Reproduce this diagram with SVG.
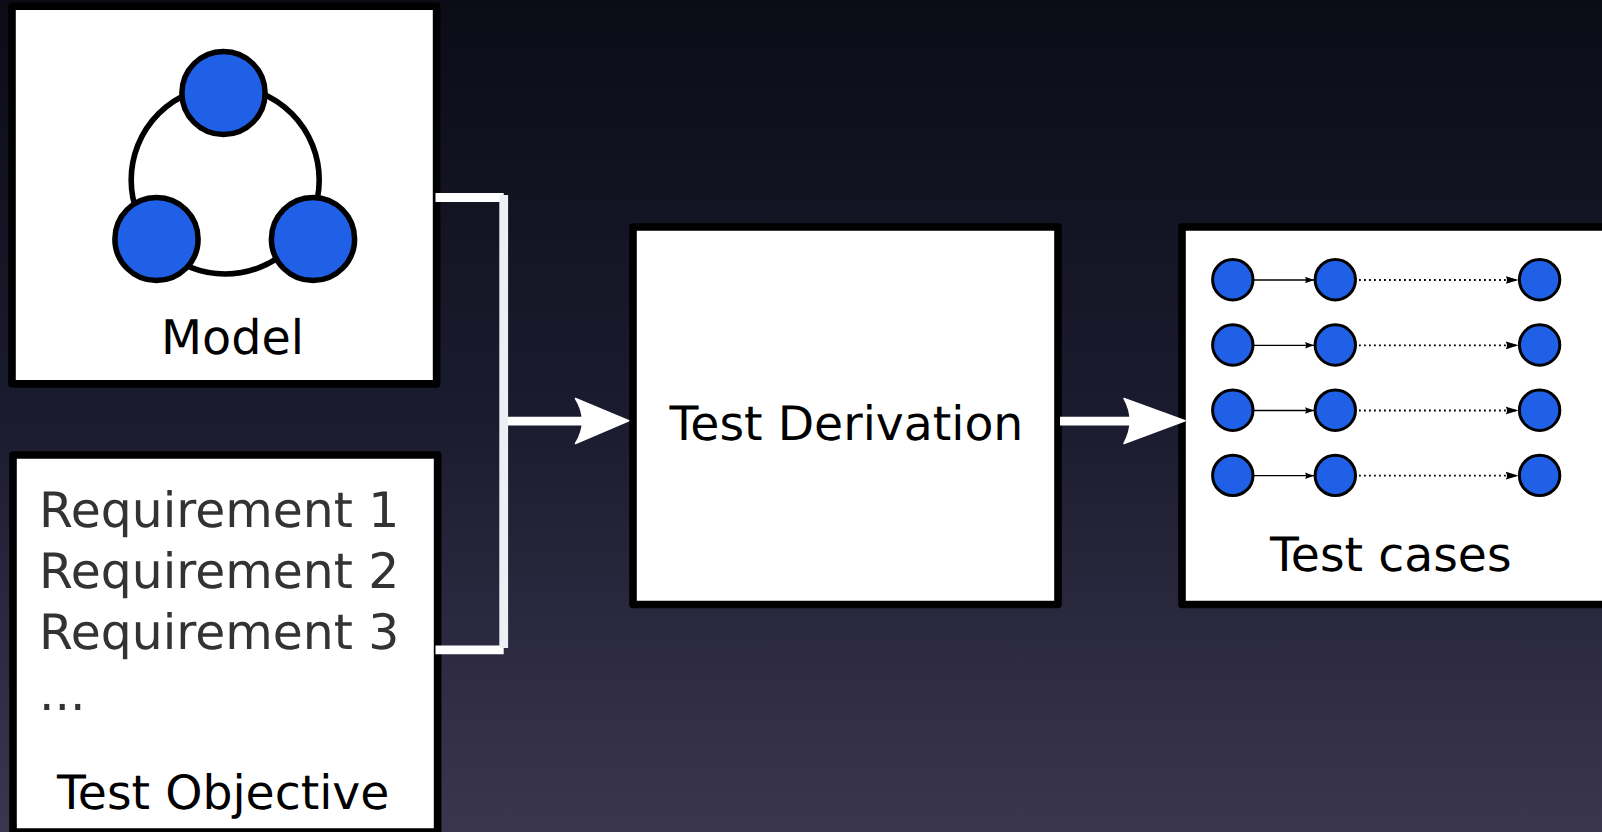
<svg xmlns="http://www.w3.org/2000/svg" width="1602" height="832" viewBox="0 0 1602 832">
<style>
.box{fill:#fff;stroke:#000;stroke-width:7.6;stroke-linejoin:round}
.big{fill:#1f60e6;stroke:#000;stroke-width:5.5}
.small{fill:#1f60e6;stroke:#000;stroke-width:3}
.t{font-family:"DejaVu Sans",sans-serif;font-size:47.3px;fill:#000;text-rendering:geometricPrecision}
.r{font-size:48.8px;fill:#333}
.wire{fill:none;stroke:#fff;stroke-width:8.8}
.fine{fill:none;stroke:#000;stroke-width:1.3;marker-end:url(#mini)}
.dot{stroke-dasharray:1.8 3.2;stroke-width:1.8;marker-end:url(#mini2)}
.head{fill:#fff;stroke:#fff;stroke-width:1.5;stroke-linejoin:round}
</style>
<defs>
<linearGradient id="bg" x1="0" y1="0" x2="0" y2="1"><stop offset="0" stop-color="#0b0c16"/><stop offset=".5" stop-color="#1b1b2f"/><stop offset="1" stop-color="#3a364e"/></linearGradient>
<marker id="mini" markerUnits="userSpaceOnUse" markerWidth="10" markerHeight="8" refX="9" refY="4" orient="auto"><path d="M0 .7L9 4L0 7.300Q2 4 0 .7Z" fill="#000"/></marker>
<marker id="mini2" markerUnits="userSpaceOnUse" markerWidth="14" markerHeight="10" refX="13" refY="5" orient="auto"><path d="M0 1L13 5L0 9Q3 5 0 1Z" fill="#000"/></marker>
</defs>
<rect width="1602" height="832" fill="url(#bg)"/>
<g id="model">
<rect class="box" x="12" y="6.200" width="424.600" height="377.700"/>
<circle cx="225.200" cy="180" r="94" fill="none" stroke="#000" stroke-width="5.600"/>
<circle class="big" cx="223.500" cy="93" r="41.600"/>
<circle class="big" cx="156.500" cy="239" r="41.600"/>
<circle class="big" cx="313" cy="239" r="41.600"/>
<text class="t" x="161" y="354" style="font-size:47.600px">Model</text>
</g>
<g id="test-objective">
<rect class="box" x="13" y="455" width="424.600" height="377"/>
<text class="t r" x="39" y="527">Requirement 1</text>
<text class="t r" x="39" y="588">Requirement 2</text>
<text class="t r" x="39" y="649">Requirement 3</text>
<text class="t r" x="39" y="710">...</text>
<text class="t" x="57" y="808.500">Test Objective</text>
</g>
<g id="test-derivation">
<rect class="box" x="633" y="227" width="425" height="377.500"/>
<text class="t" x="669.500" y="440">Test Derivation</text>
</g>
<g id="test-cases">
<rect class="box" x="1182" y="227" width="450" height="377.500"/>
<circle class="small" cx="1232.800" cy="279.700" r="20.200"/><circle class="small" cx="1335.300" cy="279.700" r="20.200"/><circle class="small" cx="1539.600" cy="279.700" r="20.200"/>
<circle class="small" cx="1232.800" cy="345" r="20.200"/><circle class="small" cx="1335.300" cy="345" r="20.200"/><circle class="small" cx="1539.600" cy="345" r="20.200"/>
<circle class="small" cx="1232.800" cy="410.200" r="20.200"/><circle class="small" cx="1335.300" cy="410.200" r="20.200"/><circle class="small" cx="1539.600" cy="410.200" r="20.200"/>
<circle class="small" cx="1232.800" cy="475.400" r="20.200"/><circle class="small" cx="1335.300" cy="475.400" r="20.200"/><circle class="small" cx="1539.600" cy="475.400" r="20.200"/>
<text class="t" x="1270" y="570.500">Test cases</text>
</g>
<g id="connectors">
<path class="wire" d="M435.500 197.500H503.700M435.500 649.800H503.700M508 421.200H585"/>
<path class="wire" style="stroke:#eeeef5" d="M503.700 195V648"/>
<path class="wire" d="M1060 421.200H1134"/>
<path class="head" d="M628.700 420.800L575.500 398.500Q589.500 420.800 575.500 443.500Z"/>
<path class="head" d="M1185 420.800L1124 398.500Q1136.500 420.800 1124 443.500Z"/>
<path class="fine" d="M1254 280H1314"/><path class="fine dot" d="M1359 280H1518.500"/>
<path class="fine" d="M1254 345.300H1314"/><path class="fine dot" d="M1359 345.300H1518.500"/>
<path class="fine" d="M1254 410.500H1314"/><path class="fine dot" d="M1359 410.500H1518.500"/>
<path class="fine" d="M1254 475.700H1314"/><path class="fine dot" d="M1359 475.700H1518.500"/>
</g>
</svg>
